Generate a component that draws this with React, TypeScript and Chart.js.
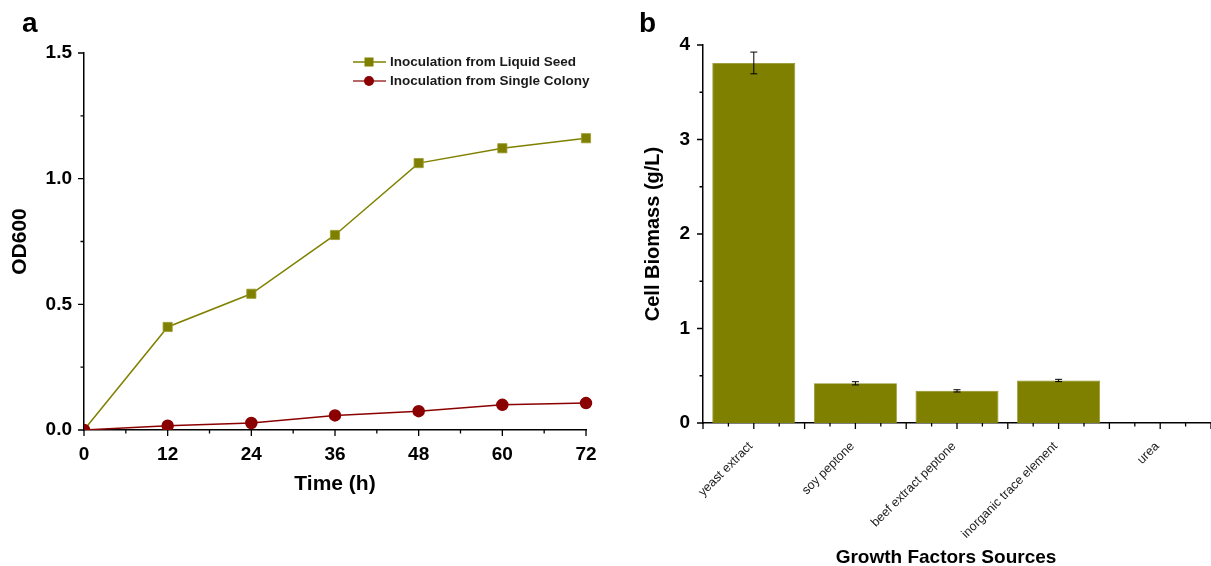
import React, { useEffect, useRef } from 'react';
import { Chart, registerables } from 'chart.js';

Chart.register(...registerables);

const FONT = '"Liberation Sans", Arial, Helvetica, sans-serif';

// ---- Panel a data ----
const timeHours = [0, 12, 24, 36, 48, 60, 72];
const liquidSeedOD = [0, 0.41, 0.542, 0.776, 1.062, 1.121, 1.161];
const singleColonyOD = [0, 0.017, 0.028, 0.058, 0.075, 0.1, 0.107];
const seriesLabels = ['Inoculation from Liquid Seed', 'Inoculation from Single Colony'];

// ---- Panel b data ----
const sourceNames = ['yeast extract', 'soy peptone', 'beef extract peptone', 'inorganic trace element', 'urea'];
const biomass = [3.81, 0.42, 0.34, 0.45, 0];
const biomassErr = [0.115, 0.017, 0.012, 0.012, 0];

const OLIVE = '#808000';
const DARKRED = '#8B0000';

const tickMarks = {
  id: 'tickMarks',
  afterDatasetsDraw(chart: any, _args: any, opts: any) {
    const ctx = chart.ctx;
    ctx.save();
    ctx.strokeStyle = '#000';
    ctx.lineWidth = 1.3;
    const major = 6;
    const minor = 3.5;
    const xs = chart.scales.x;
    const ys = chart.scales.y;
    ctx.beginPath();
    if (opts && opts.category) {
      const n = chart.data.labels.length;
      const step = xs.getPixelForValue(1) - xs.getPixelForValue(0);
      for (let i = 0; i < n; i++) {
        const c = xs.getPixelForValue(i);
        const marks: [number, number][] = [
          [c - step / 2, major],
          [c - step / 4, minor],
          [c, major],
          [c + step / 4, minor],
        ];
        if (i === n - 1) marks.push([c + step / 2, major]);
        for (const [p, len] of marks) {
          ctx.moveTo(p, xs.top);
          ctx.lineTo(p, xs.top + len);
        }
      }
    } else {
      xs.ticks.forEach((t: any) => {
        const p = xs.getPixelForValue(t.value);
        const len = t.label !== '' ? major : minor;
        ctx.moveTo(p, xs.top);
        ctx.lineTo(p, xs.top + len);
      });
    }
    ys.ticks.forEach((t: any) => {
      const p = ys.getPixelForValue(t.value);
      const len = t.label !== '' ? major : minor;
      ctx.moveTo(ys.right, p);
      ctx.lineTo(ys.right - len, p);
    });
    ctx.stroke();
    ctx.restore();
  },
};

const lineLegend = {
  id: 'lineLegend',
  afterDraw(chart: any) {
    const ctx = chart.ctx;
    ctx.save();
    chart.data.datasets.forEach((ds: any, i: number) => {
      const y = 62 + i * 19;
      ctx.strokeStyle = i === 0 ? ds.borderColor : '#A03434';
      ctx.lineWidth = 1.5;
      ctx.beginPath();
      ctx.moveTo(353, y);
      ctx.lineTo(386, y);
      ctx.stroke();
      ctx.fillStyle = ds.pointBackgroundColor;
      if (ds.pointStyle === 'rect') {
        ctx.fillRect(369 - 4.5, y - 4.5, 9, 9);
      } else {
        ctx.beginPath();
        ctx.arc(369, y, 5, 0, Math.PI * 2);
        ctx.fill();
      }
      ctx.fillStyle = '#1a1a1a';
      ctx.font = `bold 13.5px ${FONT}`;
      ctx.textBaseline = 'middle';
      ctx.textAlign = 'left';
      ctx.fillText(ds.label, 390, y + 0.5);
    });
    ctx.restore();
  },
};

const errorBars = {
  id: 'errorBars',
  afterDatasetsDraw(chart: any) {
    const ctx = chart.ctx;
    const meta = chart.getDatasetMeta(0);
    const ys = chart.scales.y;
    ctx.save();
    ctx.strokeStyle = '#000';
    ctx.lineWidth = 1;
    meta.data.forEach((el: any, i: number) => {
      const err = biomassErr[i];
      if (!err) return;
      const v = biomass[i];
      const top = ys.getPixelForValue(v + err);
      const bot = ys.getPixelForValue(v - err);
      const x = el.x;
      ctx.beginPath();
      ctx.moveTo(x, top);
      ctx.lineTo(x, bot);
      ctx.moveTo(x - 3.5, top);
      ctx.lineTo(x + 3.5, top);
      ctx.moveTo(x - 3.5, bot);
      ctx.lineTo(x + 3.5, bot);
      ctx.stroke();
    });
    ctx.restore();
  },
};

function PanelA() {
  const ref = useRef<HTMLCanvasElement>(null);
  useEffect(() => {
    if (!ref.current) return;
    const chart = new Chart(ref.current, {
      type: 'line',
      data: {
        datasets: [
          {
            label: seriesLabels[0],
            data: timeHours.map((t, i) => ({ x: t, y: liquidSeedOD[i] })),
            borderColor: OLIVE,
            backgroundColor: OLIVE,
            pointBackgroundColor: OLIVE,
            pointBorderColor: '#9a9a30',
            pointBorderWidth: 0.8,
            pointStyle: 'rect',
            pointRadius: 6.5,
            borderWidth: 1.5,
            order: 1,
            clip: { left: 0, bottom: 0, right: 12, top: 12 } as any,
          },
          {
            label: seriesLabels[1],
            data: timeHours.map((t, i) => ({ x: t, y: singleColonyOD[i] })),
            borderColor: DARKRED,
            backgroundColor: DARKRED,
            pointBackgroundColor: DARKRED,
            pointBorderColor: DARKRED,
            pointStyle: 'circle',
            pointRadius: 5.5,
            borderWidth: 1.5,
            order: 0,
            clip: { left: 0, bottom: 0, right: 12, top: 12 } as any,
          },
        ],
      },
      options: {
        animation: false,
        responsive: false,
        events: [],
        layout: { padding: { left: 8, top: 53, right: 34, bottom: 65 } },
        plugins: { legend: { display: false }, tooltip: { enabled: false } },
        scales: {
          x: {
            type: 'linear',
            min: 0,
            max: 72,
            grid: { display: false, drawTicks: false },
            border: { display: true, color: '#000', width: 1.5 },
            ticks: {
              stepSize: 6,
              autoSkip: false,
              maxRotation: 0,
              padding: 13,
              color: '#000',
              font: { family: FONT, size: 19, weight: 'bold' },
              callback: (v: any) => (Math.round(v) % 12 === 0 ? String(v) : ''),
            },
            title: {
              display: true,
              text: 'Time (h)',
              color: '#000',
              font: { family: FONT, size: 21, weight: 'bold' },
              padding: { top: 0, bottom: 4 },
            },
            afterFit: (s: any) => {
              s.height = 71;
            },
          },
          y: {
            type: 'linear',
            min: 0,
            max: 1.5,
            grid: { display: false, drawTicks: false },
            border: { display: true, color: '#000', width: 1.5 },
            ticks: {
              stepSize: 0.25,
              autoSkip: false,
              padding: 12,
              color: '#000',
              font: { family: FONT, size: 19, weight: 'bold' },
              callback: (v: any) => (Math.round(v * 4) % 2 === 0 ? Number(v).toFixed(1) : ''),
            },
            title: {
              display: true,
              text: 'OD600',
              color: '#000',
              font: { family: FONT, size: 21, weight: 'bold' },
              padding: { top: 0, bottom: 0 },
            },
            afterFit: (s: any) => {
              s.width = 76;
            },
          },
        },
      },
      plugins: [tickMarks, lineLegend],
    } as any);
    return () => chart.destroy();
  }, []);
  return (
    <canvas
      ref={ref}
      width={620}
      height={566}
      style={{ position: 'absolute', left: 0, top: 0, width: 620, height: 566 }}
    />
  );
}

function PanelB() {
  const ref = useRef<HTMLCanvasElement>(null);
  useEffect(() => {
    if (!ref.current) return;
    const chart = new Chart(ref.current, {
      type: 'bar',
      data: {
        labels: sourceNames,
        datasets: [
          {
            label: 'Cell Biomass',
            data: biomass,
            backgroundColor: OLIVE,
            borderColor: '#8f8f20',
            borderWidth: 0.8,
            categoryPercentage: 1,
            barPercentage: 0.817,
          },
        ],
      },
      options: {
        animation: false,
        responsive: false,
        events: [],
        layout: { padding: { left: 21, top: 45, right: 0, bottom: 0 } },
        plugins: { legend: { display: false }, tooltip: { enabled: false }, tickMarks: { category: true } },
        scales: {
          x: {
            type: 'category',
            grid: { display: false, drawTicks: false },
            border: { display: true, color: '#000', width: 1.5 },
            ticks: {
              autoSkip: false,
              minRotation: 45,
              maxRotation: 45,
              padding: 16,
              labelOffset: -3,
              color: '#222',
              font: { family: FONT, size: 12.5 },
            },
            afterFit: (s: any) => {
              s.height = 143;
            },
          },
          y: {
            type: 'linear',
            min: 0,
            max: 4,
            grid: { display: false, drawTicks: false },
            border: { display: true, color: '#000', width: 1.5 },
            ticks: {
              stepSize: 0.5,
              autoSkip: false,
              padding: 13,
              color: '#000',
              font: { family: FONT, size: 19, weight: 'bold' },
              callback: (v: any) => (Math.round(v * 2) % 2 === 0 ? String(Math.round(v)) : ''),
            },
            title: {
              display: true,
              text: 'Cell Biomass (g/L)',
              color: '#000',
              font: { family: FONT, size: 20, weight: 'bold' },
              padding: { top: 0, bottom: 0 },
            },
            afterFit: (s: any) => {
              s.width = 62;
            },
          },
        },
      },
      plugins: [tickMarks, errorBars],
    } as any);
    return () => chart.destroy();
  }, []);
  return (
    <canvas
      ref={ref}
      width={591}
      height={566}
      style={{ position: 'absolute', left: 620, top: 0, width: 591, height: 566 }}
    />
  );
}

export default function App() {
  const labelStyle: React.CSSProperties = {
    position: 'absolute',
    fontFamily: FONT,
    fontWeight: 'bold',
    fontSize: 28,
    lineHeight: '30px',
    color: '#000',
  };
  return (
    <div
      style={{
        position: 'absolute',
        left: 0,
        top: 0,
        width: 1211,
        height: 566,
        background: '#fff',
        overflow: 'hidden',
      }}
    >
      <PanelA />
      <PanelB />
      <div style={{ ...labelStyle, left: 22, top: 8 }}>a</div>
      <div style={{ ...labelStyle, left: 639, top: 8 }}>b</div>
      <div
        style={{
          position: 'absolute',
          left: 946,
          top: 546,
          transform: 'translateX(-50%)',
          whiteSpace: 'nowrap',
          fontFamily: FONT,
          fontWeight: 'bold',
          fontSize: 19,
          lineHeight: '22px',
          color: '#000',
        }}
      >
        Growth Factors Sources
      </div>
    </div>
  );
}
